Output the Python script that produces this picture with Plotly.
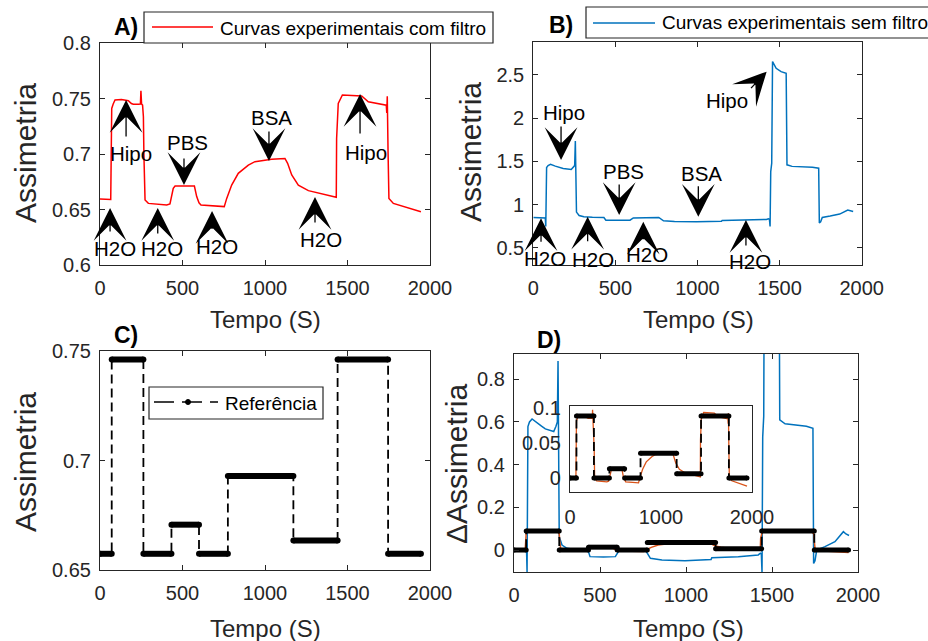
import plotly.graph_objects as go

# ---------------- data ----------------
# filtered experimental curve (panel A), time in s
red_t = [0, 40, 65, 68, 71, 80, 91, 130, 172, 190, 202, 232, 245, 248, 252, 258, 263, 266, 270, 273,
         293, 350, 404, 424, 444, 455, 500, 572, 586, 600, 612, 687, 753, 768, 798, 838, 899, 939,
         980, 1040, 1121, 1137, 1162, 1202, 1263, 1343, 1424, 1432, 1434, 1444, 1469, 1586, 1626,
         1717, 1735, 1738, 1741, 1746, 1751, 1778, 1848, 1909, 1945]
red_v = [0.6595, 0.6595, 0.659, 0.700, 0.741, 0.745, 0.7486, 0.749, 0.748, 0.7455, 0.7448, 0.7448,
         0.745, 0.757, 0.745, 0.744, 0.7336, 0.700, 0.665, 0.6586, 0.6555, 0.6545, 0.6541, 0.655,
         0.669, 0.6712, 0.6712, 0.6712, 0.6616, 0.656, 0.6541, 0.6532, 0.6526, 0.660, 0.672, 0.6826,
         0.690, 0.6931, 0.694, 0.6952, 0.696, 0.6916, 0.6811, 0.672, 0.667, 0.664, 0.661, 0.661,
         0.714, 0.7456, 0.7532, 0.7523, 0.7471, 0.7441, 0.744, 0.737, 0.752, 0.700, 0.660, 0.6555,
         0.6526, 0.6495, 0.648]

# unfiltered experimental curve (panel B)
blue_t = [0, 40, 73, 76, 81, 90, 105, 134, 160, 182, 231, 244, 252, 256, 259, 263, 279, 308, 360,
          430, 442, 520, 589, 609, 680, 764, 793, 860, 994, 1110, 1146, 1150, 1207, 1304, 1420,
          1432, 1438, 1442, 1446, 1452, 1457, 1479, 1509, 1540, 1545, 1576, 1653, 1700, 1738,
          1742, 1750, 1760, 1808, 1866, 1915, 1930, 1948]
blue_v = [0.850, 0.852, 0.845, 0.745, 1.428, 1.450, 1.464, 1.444, 1.430, 1.417, 1.405, 1.430,
          1.450, 1.735, 1.100, 0.912, 0.873, 0.858, 0.853, 0.850, 0.819, 0.817, 0.819, 0.845,
          0.848, 0.850, 0.811, 0.803, 0.800, 0.803, 0.806, 0.814, 0.816, 0.819, 0.827, 0.835,
          0.830, 0.745, 1.380, 1.477, 2.653, 2.576, 2.537, 2.518, 1.459, 1.441, 1.436, 1.430,
          1.420, 0.787, 0.800, 0.850, 0.866, 0.889, 0.936, 0.925, 0.918]

# reference step curve (panel C): level held between consecutive switching times
ref_edges = [0, 71, 263, 433, 600, 775, 1172, 1440, 1746, 1945]
ref_levels = [0.6574, 0.7461, 0.6574, 0.6707, 0.6574, 0.6929, 0.6635, 0.7461, 0.6574]

x_ticks = [0, 500, 1000, 1500, 2000]

W, H = 928, 641
FONT = "Liberation Sans, Arial, Helvetica, sans-serif"
TXT = "#262626"
RED, BLUE, ORANGE = "#FF0000", "#0072BD", "#D95319"


def dom_x(left, right):
    return [left / W, right / W]


def dom_y(top, bottom):
    return [1 - bottom / H, 1 - top / H]


def px(x):
    return x / W


def py(y):
    return 1 - y / H


def step_path(edges, levels):
    xs, ys = [], []
    for i, lv in enumerate(levels):
        xs += [edges[i], edges[i + 1]]
        ys += [lv, lv]
    return xs, ys


def bars(edges, levels):
    xs, ys = [], []
    for i, lv in enumerate(levels):
        xs += [edges[i], edges[i + 1], None]
        ys += [lv, lv, None]
    return xs, ys


red0 = red_v[0]
blue0 = blue_v[0]
ref0 = ref_levels[0]
d_red = [v - red0 for v in red_v]
d_blue = [v - blue0 for v in blue_v]
d_ref = [v - ref0 for v in ref_levels]

fig = go.Figure()

# A
fig.add_trace(go.Scatter(x=red_t, y=red_v, mode="lines", line=dict(color=RED, width=1.5),
                         xaxis="x", yaxis="y", showlegend=False))
# B
fig.add_trace(go.Scatter(x=blue_t, y=blue_v, mode="lines", line=dict(color=BLUE, width=1.5),
                         xaxis="x2", yaxis="y2", showlegend=False))


def add_reference(levels, xa, ya, bar_w, mk):
    sx, sy = step_path(ref_edges, levels)
    fig.add_trace(go.Scatter(x=sx, y=sy, mode="lines",
                             line=dict(color="black", width=1.8, dash="9px,5px"),
                             xaxis=xa, yaxis=ya, showlegend=False))
    bx, by = bars(ref_edges, levels)
    fig.add_trace(go.Scatter(x=bx, y=by, mode="lines+markers",
                             line=dict(color="black", width=bar_w),
                             marker=dict(color="black", size=mk),
                             xaxis=xa, yaxis=ya, showlegend=False))


# C
add_reference(ref_levels, "x3", "y3", 6, 6)

# D main
fig.add_trace(go.Scatter(x=blue_t, y=d_blue, mode="lines", line=dict(color=BLUE, width=1.5),
                         xaxis="x4", yaxis="y4", showlegend=False))
fig.add_trace(go.Scatter(x=red_t, y=d_red, mode="lines", line=dict(color=ORANGE, width=1.5),
                         xaxis="x4", yaxis="y4", showlegend=False))
add_reference(d_ref, "x4", "y4", 5, 5)

# D inset
fig.add_trace(go.Scatter(x=red_t, y=d_red, mode="lines", line=dict(color=ORANGE, width=1.3),
                         xaxis="x5", yaxis="y5", showlegend=False))
add_reference(d_ref, "x5", "y5", 5, 5)

axis_style = dict(showline=True, linecolor=TXT, linewidth=1.2, mirror="allticks",
                  ticks="inside", ticklen=5, tickcolor=TXT, showgrid=False, zeroline=False,
                  tickfont=dict(family=FONT, size=20, color=TXT))

xa = dict(axis_style, range=[0, 2000], tickvals=x_ticks, ticklabelstandoff=5)

fig.update_layout(
    width=W, height=H, margin=dict(l=0, r=0, t=0, b=0, autoexpand=False),
    paper_bgcolor="white", plot_bgcolor="white",
    xaxis=dict(xa, domain=dom_x(100, 430), anchor="y"),
    yaxis=dict(axis_style, domain=dom_y(43, 265), anchor="x", range=[0.6, 0.8],
               tickvals=[0.6, 0.65, 0.7, 0.75, 0.8], ticktext=["0.6", "0.65", "0.7", "0.75", "0.8"],
               ticklabelstandoff=4),
    xaxis2=dict(xa, domain=dom_x(533.3, 861.7), anchor="y2"),
    yaxis2=dict(axis_style, domain=dom_y(42, 265), anchor="x2", range=[0.3, 2.88],
                tickvals=[0.5, 1, 1.5, 2, 2.5], ticktext=["0.5", "1", "1.5", "2", "2.5"],
                ticklabelstandoff=4),
    xaxis3=dict(xa, domain=dom_x(100, 430), anchor="y3"),
    yaxis3=dict(axis_style, domain=dom_y(351, 570), anchor="x3", range=[0.65, 0.75],
                tickvals=[0.65, 0.7, 0.75], ticktext=["0.65", "0.7", "0.75"], ticklabelstandoff=4),
    xaxis4=dict(xa, domain=dom_x(514, 858), anchor="y4"),
    yaxis4=dict(axis_style, domain=dom_y(354, 572), anchor="x4", range=[-0.103, 0.918],
                tickvals=[0, 0.2, 0.4, 0.6, 0.8], ticktext=["0", "0.2", "0.4", "0.6", "0.8"],
                ticklabelstandoff=4),
    xaxis5=dict(axis_style, domain=dom_x(570, 752), anchor="y5", range=[0, 2000],
                tickvals=[0, 1000, 2000], ticks="", ticklabelstandoff=7),
    yaxis5=dict(axis_style, domain=dom_y(406, 492), anchor="x5", range=[-0.02, 0.103],
                tickvals=[0, 0.05, 0.1], ticktext=["0", "0.05", "0.1"], ticks="",
                ticklabelstandoff=4),
)

ann = []
shapes = []


def label(x, y, text, size, angle=0, bold=False, color=TXT, xanchor="center"):
    ann.append(dict(x=px(x), y=py(y), xref="paper", yref="paper", text=f"<b>{text}</b>" if bold else text,
                    showarrow=False, textangle=angle, xanchor=xanchor, yanchor="middle",
                    font=dict(family=FONT, size=size, color=color)))


# axis titles
for cx, cy in [(25, 153), (470, 152), (25, 462)]:
    label(cx, cy, "Assimetria", 30, angle=-90)
label(456, 464, "ΔAssimetria", 30, angle=-90)
for cx, cy in [(265, 319), (698, 319), (265, 628), (688, 628)]:
    label(cx, cy, "Tempo (S)", 24)

# panel letters
for cx, cy, t in [(126, 27, "A)"), (561, 25, "B)"), (126, 335, "C)"), (549, 340, "D)")]:
    label(cx, cy, t, 23, bold=True, color="black")

# legend boxes
legend_style = dict(type="rect", xref="paper", yref="paper", line=dict(color=TXT, width=1.2),
                    fillcolor="white", layer="above")
shapes.append(dict(legend_style, x0=px(144), x1=px(493), y0=py(12), y1=py(43)))
shapes.append(dict(type="line", xref="paper", yref="paper", x0=px(152), x1=px(213), y0=py(27), y1=py(27),
                   line=dict(color=RED, width=1.5), layer="above"))
label(218, 28, "Curvas experimentais com filtro", 19, color="black", xanchor="left")

shapes.append(dict(legend_style, x0=px(586), x1=px(960), y0=py(7), y1=py(38)))
shapes.append(dict(type="line", xref="paper", yref="paper", x0=px(593), x1=px(655), y0=py(23), y1=py(23),
                   line=dict(color=BLUE, width=1.5), layer="above"))
label(660, 23, "Curvas experimentais sem filtro", 19, color="black", xanchor="left")

shapes.append(dict(legend_style, x0=px(149), x1=px(323), y0=py(387), y1=py(419)))
shapes.append(dict(type="line", xref="paper", yref="paper", x0=px(154), x1=px(218), y0=py(402), y1=py(402),
                   line=dict(color="black", width=1.5, dash="20px,8px"), layer="above"))
shapes.append(dict(type="circle", xref="paper", yref="paper", x0=px(185.5), x1=px(190.5),
                   y0=py(399.5), y1=py(404.5), line=dict(color="black", width=1),
                   fillcolor="black", layer="above"))
label(223, 403, "Referência", 19, color="black", xanchor="left")

# event markers: (head time, head value, dx, dy in px, text, text time, text value)
events_a = [(61, 0.6514, 0, 25, "H2O", 91, 0.6153), (350, 0.6514, 0, 27, "H2O", 376, 0.6153),
            (679, 0.6486, 0, 19, "H2O", 709, 0.617), (1303, 0.6613, 0, 27, "H2O", 1339, 0.6234),
            (158, 0.7486, 0, 38, "Hipo", 188, 0.700), (509, 0.672, 0, -28, "PBS", 533, 0.7108),
            (1024, 0.6937, 0, -31, "BSA", 1042, 0.7333), (1576, 0.754, 0, 41, "Hipo", 1612, 0.7009)]
events_b = [(47, 0.840, 0, 25, "H2O", 71, 0.381), (331, 0.859, 0, 26, "H2O", 365, 0.358),
            (670, 0.801, 0, 18, "H2O", 690, 0.416), (1295, 0.821, 0, 27, "H2O", 1320, 0.338),
            (169, 1.515, 0, -35, "Hipo", 189, 2.062), (523, 0.878, 0, -32, "PBS", 547, 1.38),
            (1005, 0.859, 0, -32, "BSA", 1025, 1.361), (1421, 2.537, -17, 18, "Hipo", 1178, 2.201)]

for evs, xr, yr in [(events_a, "x", "y"), (events_b, "x2", "y2")]:
    for ht, hv, dx, dy, text, tt, tv in evs:
        ann.append(dict(x=ht, y=hv, xref=xr, yref=yr, ax=dx, ay=dy, text="", showarrow=True,
                        arrowhead=3, arrowsize=4.2, arrowwidth=1.3, arrowcolor="black", standoff=0))
        ann.append(dict(x=tt, y=tv, xref=xr, yref=yr, text=text, showarrow=False,
                        font=dict(family=FONT, size=20.5, color="black")))

fig.update_layout(annotations=ann, shapes=shapes)
fig.write_html("out.html")
